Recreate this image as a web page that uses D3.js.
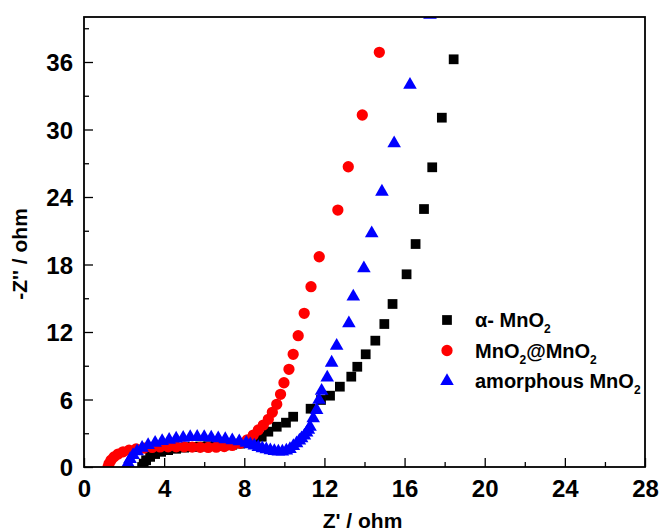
<!DOCTYPE html>
<html>
<head>
<meta charset="utf-8">
<script src="https://cdn.jsdelivr.net/npm/d3@7"></script>
<style>
  body { margin: 0; background: #fff; }
  svg text { font-family: "Liberation Sans", Arial, sans-serif; font-weight: bold; }
</style>
</head>
<body>
<div id="chart"></div>
<script>
// --- data (Z' , -Z'') ---
const alphaZre = [2.9, 2.98, 3.1, 3.3, 3.55, 3.85, 4.2, 4.6, 5.0, 5.4, 5.8, 6.2, 6.6, 7.0, 7.4, 7.8, 8.2, 8.55, 8.87, 9.2, 9.62, 10.08, 10.44, 11.31, 11.83, 12.28, 12.77, 13.34, 13.64, 14.06, 14.54, 14.99, 15.40, 16.10, 16.55, 16.97, 17.38, 17.86, 18.45];
const alphaZim = [0, 0.3, 0.6, 0.9, 1.15, 1.35, 1.5, 1.62, 1.72, 1.78, 1.82, 1.85, 1.88, 1.92, 1.98, 2.08, 2.25, 2.45, 2.69, 3.14, 3.58, 3.94, 4.47, 5.18, 5.96, 6.34, 7.14, 8.03, 8.91, 10.02, 11.23, 12.71, 14.49, 17.13, 19.82, 22.93, 26.64, 31.05, 36.24];

const coreZre = [1.2, 1.25, 1.35, 1.5, 1.7, 1.95, 2.25, 2.6, 3.0, 3.4, 3.8, 4.2, 4.6, 5.0, 5.4, 5.8, 6.2, 6.6, 7.0, 7.4, 7.8, 8.15, 8.45, 8.70, 8.95, 9.20, 9.40, 9.62, 9.81, 9.98, 10.23, 10.44, 10.69, 10.99, 11.33, 11.74, 12.67, 13.19, 13.89, 14.74];
const coreZim = [0, 0.3, 0.6, 0.9, 1.15, 1.35, 1.5, 1.6, 1.68, 1.74, 1.78, 1.8, 1.8, 1.79, 1.77, 1.75, 1.74, 1.76, 1.82, 1.92, 2.1, 2.42, 2.84, 3.29, 3.73, 4.24, 4.86, 5.57, 6.46, 7.49, 8.68, 10.02, 11.67, 13.66, 16.03, 18.69, 22.84, 26.69, 31.29, 36.86];

const amorZre = [2.15, 2.2, 2.3, 2.45, 2.65, 2.9, 3.2, 3.55, 3.9, 4.25, 4.6, 4.95, 5.3, 5.65, 6.0, 6.35, 6.7, 7.05, 7.4, 7.75, 8.1, 8.3, 8.5, 8.7, 8.9, 9.1, 9.3, 9.5, 9.7, 9.9, 10.1, 10.28, 10.45, 10.61, 10.75, 10.86, 11.0, 11.11, 11.2, 11.28, 11.44, 11.61, 11.73, 11.86, 12.14, 12.36, 12.61, 13.22, 13.44, 13.97, 14.36, 14.87, 15.48, 16.27, 17.27];
const amorZim = [0, 0.35, 0.7, 1.05, 1.4, 1.7, 1.95, 2.15, 2.3, 2.42, 2.52, 2.6, 2.65, 2.67, 2.66, 2.62, 2.55, 2.47, 2.38, 2.28, 2.14, 2.02, 1.9, 1.78, 1.66, 1.56, 1.48, 1.42, 1.38, 1.38, 1.45, 1.6, 1.85, 2.1, 2.35, 2.55, 2.8, 3.05, 3.3, 3.58, 4.33, 5.07, 5.96, 6.78, 7.94, 9.27, 10.76, 12.77, 15.14, 17.66, 20.77, 24.47, 28.77, 33.96, 40.2];

const xMajor = [0, 4, 8, 12, 16, 20, 24, 28];
const xMinor = [2, 6, 10, 14, 18, 22, 26];
const yMajor = [0, 6, 12, 18, 24, 30, 36];
const yMinor = [3, 9, 15, 21, 27, 33, 39];

const series = [
  {name: "alpha", zre: alphaZre, zim: alphaZim, shape: d3.symbolSquare, size: 95, color: "#000000"},
  {name: "core", zre: coreZre, zim: coreZim, shape: d3.symbolCircle, size: 100, color: "#ff0000"},
  {name: "amor", zre: amorZre, zim: amorZim, shape: d3.symbolTriangle, size: 80, color: "#0000ff"}
];

const W = 661, H = 531;
const margin = {top: 17, right: 16, bottom: 64, left: 84};
const width = W - margin.left - margin.right,
      height = H - margin.top - margin.bottom;

const svg = d3.select("#chart").append("svg")
    .attr("width", W).attr("height", H);

const x = d3.scaleLinear().domain([0, 28]).range([margin.left, margin.left + width]);
const y = d3.scaleLinear().domain([0, 40]).range([margin.top + height, margin.top]);

svg.append("clipPath").attr("id", "plotclip")
  .append("rect")
    .attr("x", margin.left).attr("y", margin.top)
    .attr("width", width).attr("height", height);

// minor ticks (inward, no labels)
svg.append("g")
    .attr("transform", `translate(0,${margin.top + height})`)
    .call(d3.axisBottom(x).tickValues(xMinor).tickSize(-5).tickFormat(""))
    .call(g => g.select(".domain").remove());
svg.append("g")
    .attr("transform", `translate(${margin.left},0)`)
    .call(d3.axisLeft(y).tickValues(yMinor).tickSize(-5).tickFormat(""))
    .call(g => g.select(".domain").remove());

// major ticks
const xAxis = svg.append("g")
    .attr("transform", `translate(0,${margin.top + height})`)
    .call(d3.axisBottom(x).tickValues(xMajor).tickSizeInner(-9).tickSizeOuter(0).tickPadding(0).tickFormat(d3.format("d")));
xAxis.select(".domain").remove();
xAxis.selectAll("text")
    .attr("y", 30)
    .attr("dy", 0)
    .style("font-size", "24px")
    .attr("fill", "#000");

const yAxis = svg.append("g")
    .attr("transform", `translate(${margin.left},0)`)
    .call(d3.axisLeft(y).tickValues(yMajor).tickSizeInner(-9).tickSizeOuter(0).tickFormat(d3.format("d")));
yAxis.select(".domain").remove();
yAxis.selectAll("text")
    .attr("x", -11)
    .attr("dy", "0.36em")
    .style("font-size", "24px")
    .attr("fill", "#000");

svg.selectAll(".tick line").attr("stroke", "#000").attr("stroke-width", 1.3);

// data
const plot = svg.append("g").attr("clip-path", "url(#plotclip)");
series.forEach(s => {
  const pts = s.zre.map((v, i) => ({zre: v, zim: s.zim[i]}));
  plot.append("g").selectAll("path")
    .data(pts)
    .join("path")
      .attr("d", d3.symbol().type(s.shape).size(s.size))
      .attr("transform", d => `translate(${x(d.zre)},${y(d.zim)})`)
      .attr("fill", s.color);
});

// frame
svg.append("rect")
    .attr("x", margin.left).attr("y", margin.top)
    .attr("width", width).attr("height", height)
    .attr("fill", "none").attr("stroke", "#000").attr("stroke-width", 1.8);

// axis titles
svg.append("text")
    .attr("x", margin.left + width / 2 - 2)
    .attr("y", 528)
    .attr("text-anchor", "middle")
    .style("font-size", "21px")
    .text("Z' / ohm");

svg.append("text")
    .attr("transform", `translate(27,${margin.top + 237}) rotate(-90)`)
    .attr("text-anchor", "middle")
    .style("font-size", "21px")
    .text("-Z'' / ohm");

// legend
const legendRows = [
  {parts: [["α- MnO", false], ["2", true]]},
  {parts: [["MnO", false], ["2", true], ["@MnO", false], ["2", true]]},
  {parts: [["amorphous MnO", false], ["2", true]]}
];
const legend = svg.append("g");
legendRows.forEach((row, i) => {
  const s = series[i];
  const cy = 320 + i * 30.5;
  legend.append("path")
      .attr("d", d3.symbol().type(s.shape).size(s.size))
      .attr("transform", `translate(447,${cy})`)
      .attr("fill", s.color);
  const t = legend.append("text")
      .attr("x", 475).attr("y", cy + 7)
      .style("font-size", "20px");
  let sub = false;
  row.parts.forEach(([str, isSub]) => {
    const ts = t.append("tspan").text(str);
    if (isSub && !sub) { ts.attr("dy", 6).style("font-size", "12px"); sub = true; }
    else if (!isSub && sub) { ts.attr("dy", -6); sub = false; }
  });
});
</script>
</body>
</html>
